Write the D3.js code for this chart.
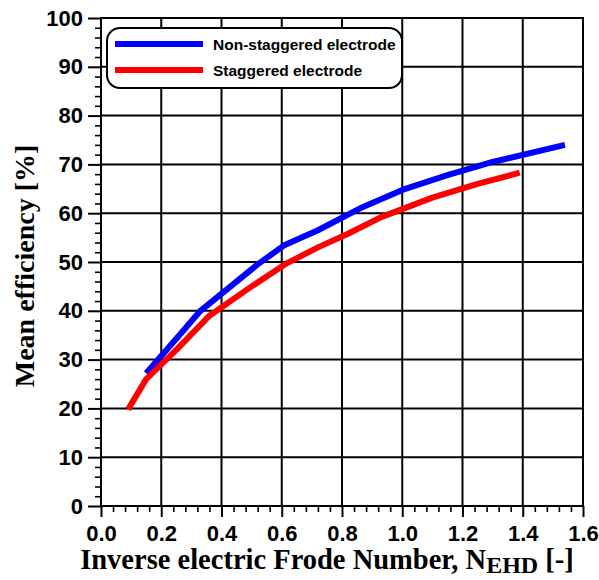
<!DOCTYPE html>
<html>
<head>
<meta charset="utf-8">
<script src="https://cdn.jsdelivr.net/npm/d3@7"></script>
<style>
  html, body { margin: 0; padding: 0; background: #fff; }
  svg { display: block; }
</style>
</head>
<body>
<svg id="chart" width="599" height="580"></svg>
<script>
// Mean efficiency vs inverse electric Frode number
const nonStaggeredX = [0.15, 0.26, 0.33, 0.42, 0.52, 0.61, 0.72, 0.86, 1.01, 1.15, 1.30, 1.54];
const nonStaggeredY = [27.2, 35.0, 40.0, 44.5, 49.5, 53.5, 56.5, 61.0, 65.0, 67.8, 70.5, 74.0];
const staggeredX = [0.09, 0.15, 0.25, 0.36, 0.50, 0.61, 0.72, 0.82, 0.93, 1.10, 1.25, 1.39];
const staggeredY = [19.8, 26.0, 32.0, 39.0, 45.0, 49.5, 53.0, 55.8, 59.2, 63.2, 66.0, 68.3];
const seriesNames = ["Non-staggered electrode", "Staggered electrode"];
const seriesColors = ["#0000ff", "#ff0000"];
const xTicks = [0.0, 0.2, 0.4, 0.6, 0.8, 1.0, 1.2, 1.4, 1.6];
const yTicks = [0, 10, 20, 30, 40, 50, 60, 70, 80, 90, 100];

const svg = d3.select("#chart");
const m = { left: 101, right: 16, top: 18, bottom: 74 };
const W = 599, H = 580;
const iw = W - m.left - m.right, ih = H - m.top - m.bottom;

const x = d3.scaleLinear().domain([0, 1.6]).range([0, iw]);
const y = d3.scaleLinear().domain([0, 100]).range([ih, 0]);

const g = svg.append("g").attr("transform", `translate(${m.left},${m.top})`);

// grid
g.append("g").selectAll("line").data(xTicks.slice(1, -1)).join("line")
  .attr("x1", d => x(d)).attr("x2", d => x(d)).attr("y1", 0).attr("y2", ih)
  .attr("stroke", "#000").attr("stroke-width", 2);
g.append("g").selectAll("line").data(yTicks.slice(1, -1)).join("line")
  .attr("y1", d => y(d)).attr("y2", d => y(d)).attr("x1", 0).attr("x2", iw)
  .attr("stroke", "#000").attr("stroke-width", 2);

// minor ticks
const xMinor = d3.range(0, 1.6001, 0.04).filter(v => Math.abs(v / 0.2 - Math.round(v / 0.2)) > 1e-6);
const yMinor = d3.range(0, 100.001, 2).filter(v => v % 10 !== 0);
g.append("g").attr("transform", `translate(0,${ih})`)
  .call(d3.axisBottom(x).tickValues(xMinor).tickSize(6).tickFormat(""))
  .call(s => s.select(".domain").remove())
  .selectAll("line").attr("stroke-width", 1.6);
g.append("g")
  .call(d3.axisLeft(y).tickValues(yMinor).tickSize(6).tickFormat(""))
  .call(s => s.select(".domain").remove())
  .selectAll("line").attr("stroke-width", 1.6);

// major axes
const xAxis = g.append("g").attr("transform", `translate(0,${ih})`)
  .call(d3.axisBottom(x).tickValues(xTicks).tickSize(11).tickPadding(8).tickFormat(d3.format(".1f")));
const yAxis = g.append("g")
  .call(d3.axisLeft(y).tickValues(yTicks).tickSize(13).tickPadding(5).tickFormat(d3.format("d")));
[xAxis, yAxis].forEach(a => {
  a.selectAll("line").attr("stroke-width", 2);
  a.select(".domain").remove();
  a.selectAll("text").attr("font-family", "Liberation Sans, Arial, sans-serif")
    .attr("font-weight", "bold").attr("font-size", 22).attr("fill", "#000");
});

// frame
g.append("rect").attr("x", 0).attr("y", 0).attr("width", iw).attr("height", ih)
  .attr("fill", "none").attr("stroke", "#000").attr("stroke-width", 2);

// series
const line = d3.line().x(d => x(d[0])).y(d => y(d[1]));
const series = [
  d3.zip(nonStaggeredX, nonStaggeredY),
  d3.zip(staggeredX, staggeredY)
];
series.forEach((pts, i) => {
  g.append("path").datum(pts).attr("d", line)
    .attr("fill", "none").attr("stroke", seriesColors[i]).attr("stroke-width", 6)
    .attr("stroke-linejoin", "round");
});

// legend
const lg = svg.append("g").attr("transform", "translate(107,28)");
lg.append("rect").attr("width", 295).attr("height", 60).attr("rx", 13).attr("ry", 13)
  .attr("fill", "#fff").attr("stroke", "#000").attr("stroke-width", 2);
seriesNames.forEach((name, i) => {
  const yy = 16 + i * 26;
  lg.append("line").attr("x1", 8).attr("x2", 96).attr("y1", yy).attr("y2", yy)
    .attr("stroke", seriesColors[i]).attr("stroke-width", 6);
  lg.append("text").attr("x", 106).attr("y", yy + 6).text(name)
    .attr("font-family", "Liberation Sans, Arial, sans-serif").attr("font-weight", "bold")
    .attr("font-size", 15.5).attr("fill", "#000");
});

// axis titles
const xt = svg.append("text").attr("x", 327).attr("y", 569)
  .attr("text-anchor", "middle")
  .attr("font-family", "Liberation Serif, Times New Roman, serif").attr("font-weight", "bold")
  .attr("font-size", 28.5).attr("fill", "#000");
xt.append("tspan").text("Inverse electric Frode Number, N");
xt.append("tspan").attr("dy", 4).attr("font-size", 24).text("EHD");
xt.append("tspan").attr("dy", -4).text(" [-]");

svg.append("text").attr("transform", "translate(34,266) rotate(-90)")
  .attr("text-anchor", "middle")
  .attr("font-family", "Liberation Serif, Times New Roman, serif").attr("font-weight", "bold")
  .attr("font-size", 28).attr("fill", "#000")
  .text("Mean efficiency [%]");
</script>
</body>
</html>
